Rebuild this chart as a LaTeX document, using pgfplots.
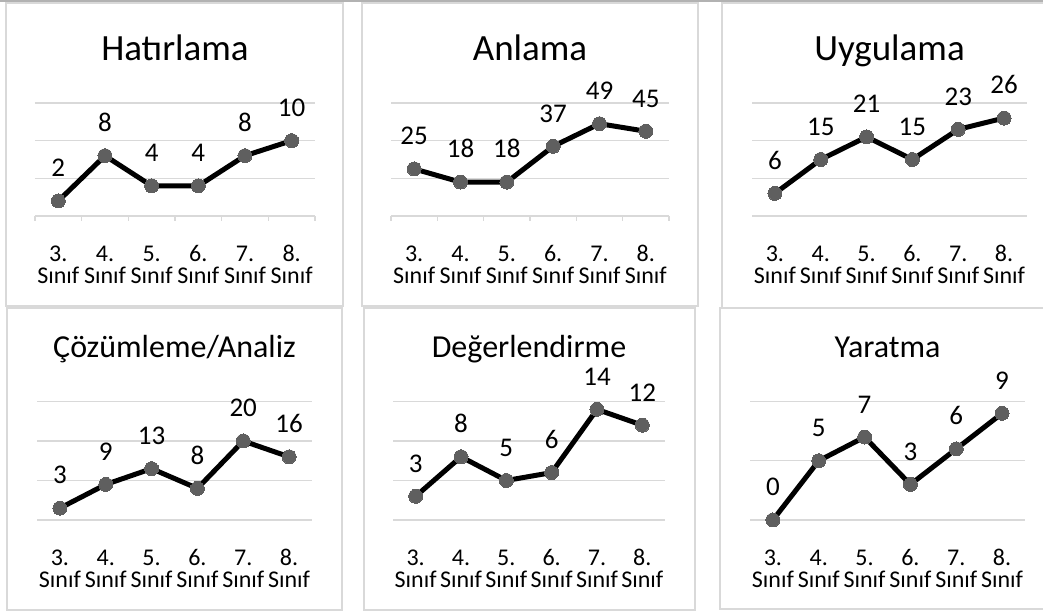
\documentclass[border=0pt]{standalone}
\usepackage{fontspec}
\setmainfont{Carlito}
\usepackage{pgfplots}
\pgfplotsset{compat=1.18}
\definecolor{gridgray}{HTML}{D9D9D9}
\definecolor{framegray}{HTML}{D9D9D9}
\definecolor{markgray}{HTML}{5F5F5F}
\newcommand\tl[1]{\vtop{\baselineskip=11pt\lineskiplimit=-20pt\halign{\hfil##\hfil\cr\rule{0pt}{9pt}#1\cr Sınıf\cr}}}
\pgfplotsset{
  /pgf/number format/assume math mode=true,
  panel/.style={
    scale only axis, clip=false,
    xmin=-0.5, xmax=5.5, ymin=0,
    xtick={0,1,2,3,4,5},
    xticklabels={\tl{3.},\tl{4.},\tl{5.},\tl{6.},\tl{7.},\tl{8.}},
    xticklabel style={anchor=base, inner sep=0pt, yshift=-23pt,
      font=\fontsize{12}{11}\selectfont},
    major tick length=0pt,
    xtick pos=left, ytick pos=left,
    axis line style={draw=none},
    ymajorgrids, grid style={draw=gridgray, line width=0.7pt},
    yticklabels={},
    title style={at={(0.5,1)}, anchor=base, inner sep=0pt},
    nodes near coords,
    nodes near coords align={anchor=south},
    every node near coord/.append style={inner sep=0pt, yshift=12pt,
      font=\fontsize{13.5}{15}\selectfont, text=black},
  },
  row1/.style={height=56.5pt,
    title style={yshift=15pt, font=\fontsize{18.5}{20}\selectfont}},
  row2/.style={height=59.25pt,
    title style={yshift=15.75pt, font=\fontsize{16}{18}\selectfont}},
  axisticks/.style={
    extra x ticks={-0.5,0.5,1.5,2.5,3.5,4.5,5.5},
    extra x tick labels={},
    extra x tick style={major tick length=2.5pt, tick align=outside,
      tick style={draw=gridgray, line width=0.7pt}},
  },
  series/.style={black, line width=2.5pt, line join=round, mark=*, mark size=3.5pt,
    mark options={fill=markgray, draw=markgray, line width=0pt}},
}
\begin{document}
\begin{tikzpicture}
\useasboundingbox (0,0) rectangle (521.5pt,-306.5pt);
\fill[white] (0,0) rectangle (521.5pt,-306.5pt);
\fill[gray!60] (0,0) rectangle (521.5pt,-0.8pt);
% frames
\draw[framegray, line width=0.7pt] (3pt,-1.5pt) rectangle (171.5pt,-153pt);
\draw[framegray, line width=0.7pt] (181pt,-1.5pt) rectangle (349pt,-153pt);
\draw[framegray, line width=0.7pt] (361pt,-1.5pt) rectangle (530pt,-154pt);
\draw[framegray, line width=0.7pt] (3.5pt,-154pt) rectangle (171pt,-305pt);
\draw[framegray, line width=0.7pt] (182pt,-154pt) rectangle (347.5pt,-305pt);
\draw[framegray, line width=0.7pt] (360pt,-154pt) rectangle (530pt,-304.5pt);

% Row 1
\begin{axis}[panel, row1, axisticks, at={(17.5pt,-108pt)}, anchor=south west,
  width=140pt, ymax=15, ytick={0,5,10,15}, title={Hatırlama}]
\addplot[series] coordinates {(0,2) (1,8) (2,4) (3,4) (4,8) (5,10)};
\end{axis}
\begin{axis}[panel, row1, axisticks, at={(195.5pt,-108pt)}, anchor=south west,
  width=139pt, ymax=60, ytick={0,20,40,60}, title={Anlama}]
\addplot[series] coordinates {(0,25) (1,18) (2,18) (3,37) (4,49) (5,45)};
\end{axis}
\begin{axis}[panel, row1, at={(376pt,-108pt)}, anchor=south west,
  width=137.5pt, ymax=30, ytick={0,10,20,30}, title={Uygulama}]
\addplot[series] coordinates {(0,6) (1,15) (2,21) (3,15) (4,23) (5,26)};
\end{axis}

% Row 2
\begin{axis}[panel, row2, at={(18.5pt,-260pt)}, anchor=south west,
  width=137.5pt, ymax=30, ytick={0,10,20,30}, title={Çözümleme/Analiz}]
\addplot[series] coordinates {(0,3) (1,9) (2,13) (3,8) (4,20) (5,16)};
\end{axis}
\begin{axis}[panel, row2, at={(196.5pt,-260pt)}, anchor=south west,
  width=136pt, ymax=15, ytick={0,5,10,15}, title={Değerlendirme}]
\addplot[series] coordinates {(0,3) (1,8) (2,5) (3,6) (4,14) (5,12)};
\end{axis}
\begin{axis}[panel, row2, at={(375pt,-260pt)}, anchor=south west,
  width=137.5pt, ymax=10, ytick={0,5,10}, title={Yaratma}]
\addplot[series] coordinates {(0,0) (1,5) (2,7) (3,3) (4,6) (5,9)};
\end{axis}
\end{tikzpicture}
\end{document}
